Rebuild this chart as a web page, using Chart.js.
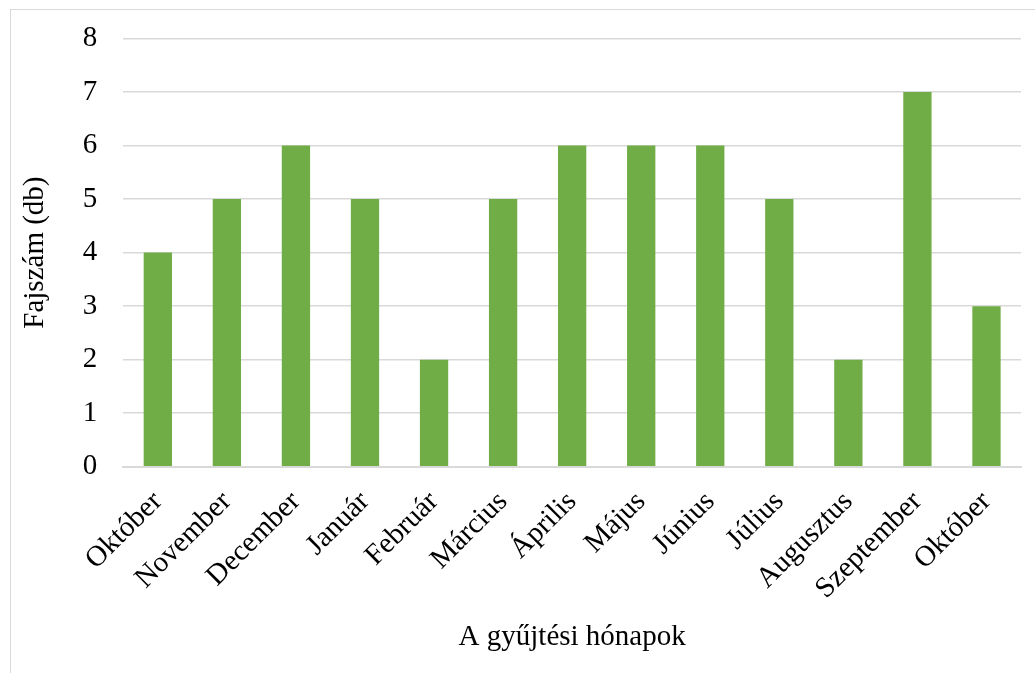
<!DOCTYPE html>
<html>
<head>
<meta charset="utf-8">
<script src="https://cdn.jsdelivr.net/npm/chart.js@4"></script>
<style>
  body { margin: 0; background: #fff; }
  #frame { position: absolute; left: 10px; top: 9px; width: 1040px; height: 680px; border: 1px solid #d9d9d9; }
  #wrap { position: absolute; left: 0; top: 0; width: 1035px; height: 673px; }
</style>
</head>
<body>
<div id="frame"></div>
<div id="wrap"><canvas id="chart" width="1035" height="673"></canvas></div>
<script>
const months = ['Október', 'November', 'December', 'Január', 'Február', 'Március', 'Április',
    'Május', 'Június', 'Július', 'Augusztus', 'Szeptember', 'Október'];
const species = [4, 5, 6, 5, 2, 5, 6, 6, 6, 5, 2, 7, 3];

const ctx = document.getElementById('chart');
const font = { family: "'Liberation Serif', 'Times New Roman', serif", size: 29 };

let chart = new Chart(ctx, {
    type: 'bar',
    data: {
        labels: months,
        datasets: [{
            label: 'Fajszám',
            data: species,
            backgroundColor: '#70ad47',
            barPercentage: 0.41,
            categoryPercentage: 1
        }]
    },
    options: {
        responsive: false,
        animation: false,
        layout: { padding: { left: 14, right: 14, top: 10, bottom: 15 } },
        plugins: { legend: { display: false }, tooltip: { enabled: false } },
        scales: {
            x: {
                grid: { display: false, drawTicks: false },
                border: { color: '#d9d9d9', width: 2 },
                ticks: { color: '#000', font: font, minRotation: 45, maxRotation: 45, padding: 18 },
                title: { display: true, text: 'A gyűjtési hónapok', color: '#000', font: font, padding: { top: -4, bottom: 3 } }
            },
            y: {
                min: 0,
                max: 8,
                grid: { color: '#d9d9d9', lineWidth: 1.5, drawTicks: false },
                border: { display: false },
                ticks: { stepSize: 1, color: '#000', font: font, padding: 26 },
                title: { display: true, text: 'Fajszám (db)', color: '#000', font: font, padding: { bottom: 4 } },
                // tick padding also pushes the top down; pull it back up a bit
                afterFit: function(scale) { scale.paddingTop -= 5; }
            }
        }
    }
});
</script>
</body>
</html>
